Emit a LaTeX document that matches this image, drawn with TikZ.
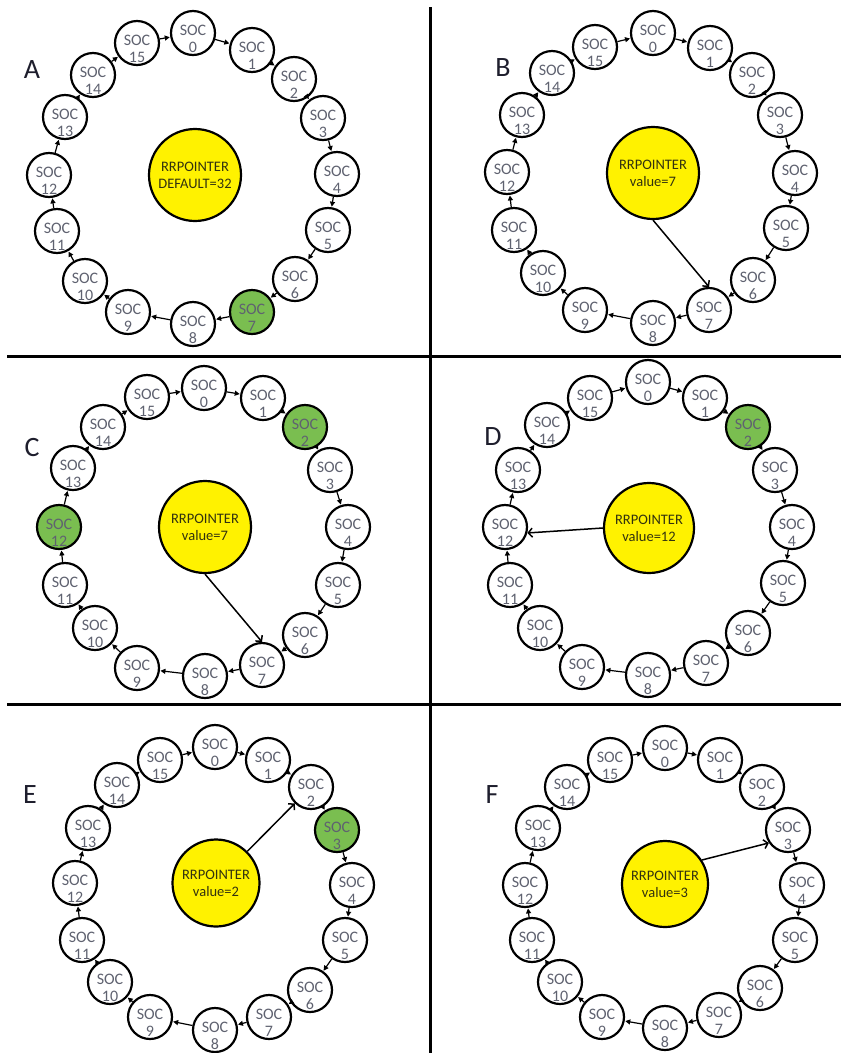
\documentclass[tikz,border=0pt]{standalone}
\usepackage{fontspec}
\setmainfont{Carlito}
\usetikzlibrary{arrows.meta}
\definecolor{socgreen}{RGB}{122,190,80}
\definecolor{soctext}{RGB}{95,98,112}
\definecolor{ytext}{RGB}{50,50,15}
\definecolor{labelcol}{RGB}{30,30,45}
\newcommand\socring[2]{%
  \foreach \i/\x/\y/\s in {#2} {\node[soc,\s] (#1\i) at (\x,\y) {\rule{0pt}{22pt}\makebox[0pt]{SOC}\\\makebox[0pt]{\i}};}
  \foreach \i in {0,...,15} {\pgfmathtruncatemacro\j{mod(\i+1,16)}\draw[ringarrow] (#1\i) -- (#1\j);}
}
\begin{document}
\begin{tikzpicture}[x=1pt,y=-1pt,
  soc/.style={circle,draw=black,line width=2.2pt,fill=white,minimum size=44pt,inner sep=0pt,align=center,text=soctext,font=\fontsize{16}{17}\selectfont},
  socw/.style={},
  socg/.style={fill=socgreen},
  rrp/.style={circle,draw=black,line width=2.2pt,fill=yellow,inner sep=0pt,align=center,text=ytext,font=\fontsize{14.5}{17}\selectfont},
  ringarrow/.style={line width=1.2pt,-{Triangle[length=5pt,width=5pt]},shorten >=0.5pt},
  ptr/.style={line width=1.5pt,-{Straight Barb[length=4pt,width=9pt]}},
  panellabel/.style={font=\fontsize{28}{30}\selectfont,text=labelcol,inner sep=0pt},
  divider/.style={line width=3pt}
]
\useasboundingbox (0,0) rectangle (841,1053);

% ---------- Panel A ----------
\socring{A}{0/193/33/socw,1/252/50/socw,2/294/79/socw,3/323/118/socw,4/337/174/socw,5/328/230/socw,6/295/279/socw,7/252/312/socg,8/193/324/socw,9/128/312/socw,10/85/281/socw,11/57/231/socw,12/49/175/socw,13/65/117/socw,14/93/75/socw,15/137/43/socw}
\node[rrp,minimum size=92pt] (AY) at (195,175) {RRPOINTER\\DEFAULT=32};
\node[panellabel] (AL) at (32,70) {A};

% ---------- Panel B ----------
\socring{B}{0/653/33/socw,1/710/48/socw,2/752/75/socw,3/780/115/socw,4/795/173/socw,5/786/228/socw,6/753/280/socw,7/709/310/socw,8/653/323/socw,9/585/310/socw,10/543/273/socw,11/514/230/socw,12/507/172/socw,13/522/115/socw,14/552/73/socw,15/595/47/socw}
\node[rrp,minimum size=92pt] (BY) at (653,173) {RRPOINTER\\value=7};
\node[panellabel] (BL) at (503,68) {B};
\draw[ptr] (BY.south) -- (B7.north);

% ---------- Panel C ----------
\socring{C}{0/204/388/socw,1/263/398/socw,2/305/427/socg,3/330/470/socw,4/348/527/socw,5/338/585/socw,6/305/635/socw,7/262/665/socw,8/205/676/socw,9/137/668/socw,10/95/628/socw,11/65/585/socw,12/59/527/socg,13/73/468/socw,14/103/427/socw,15/147/397/socw}
\node[rrp,minimum size=92pt] (CY) at (205,527) {RRPOINTER\\value=7};
\node[panellabel] (CL) at (32,448) {C};
\draw[ptr] (CY.south) -- (C7.north);

% ---------- Panel D ----------
\socring{D}{0/648/382/socw,1/705/398/socw,2/748/427/socg,3/775/470/socw,4/792/527/socw,5/783/583/socw,6/748/633/socw,7/706/663/socw,8/648/675/socw,9/582/667/socw,10/540/628/socw,11/510/585/socw,12/505/527/socw,13/518/470/socw,14/547/425/socw,15/590/398/socw}
\node[rrp,minimum size=90pt] (DY) at (649,528) {RRPOINTER\\value=12};
\node[panellabel] (DL) at (493,437) {D};
\draw[ptr] (DY.west) -- (D12.-15);

% ---------- Panel E ----------
\socring{E}{0/215/747/socw,1/268/760/socw,2/311/787/socw,3/337/830/socg,4/352/885/socw,5/345/940/socw,6/310/990/socw,7/269/1017/socw,8/215/1030/socw,9/150/1017/socw,10/110/982/socw,11/82/940/socw,12/75/883/socw,13/88/828/socw,14/117/785/socw,15/160/760/socw}
\node[rrp,minimum size=87pt] (EY) at (216,883) {RRPOINTER\\value=2};
\node[panellabel] (EL) at (30,795) {E};
\draw[ptr] (EY) -- (E2);

% ---------- Panel F ----------
\socring{F}{0/665/748/socw,1/720/760/socw,2/762/787/socw,3/788/830/socw,4/802/885/socw,5/795/940/socw,6/760/988/socw,7/719/1015/socw,8/665/1028/socw,9/602/1017/socw,10/560/982/socw,11/532/940/socw,12/525/885/socw,13/538/828/socw,14/567/787/socw,15/610/760/socw}
\node[rrp,minimum size=86pt] (FY) at (665,884) {RRPOINTER\\value=3};
\node[panellabel] (FL) at (492,795) {F};
\draw[ptr] (FY.33) -- (F3.214);

% ---------- dividers ----------
\draw[divider] (430,7) -- (430,1053);
\draw[divider] (7,356) -- (841,356);
\draw[divider] (7,704) -- (841,704);
\end{tikzpicture}
\end{document}
